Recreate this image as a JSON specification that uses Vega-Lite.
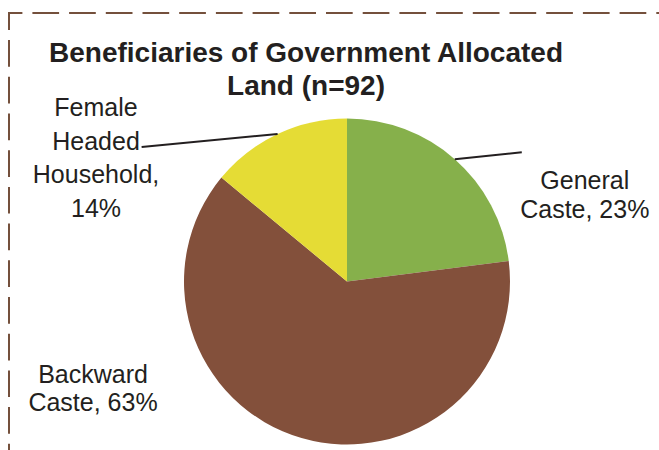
{
  "$schema": "https://vega.github.io/schema/vega-lite/v6.json",
  "width": 676,
  "height": 537,
  "autosize": {"type": "none"},
  "padding": {"left": 9, "top": 13, "right": 0, "bottom": 0},
  "background": "white",
  "title": {
    "text": ["Beneficiaries of Government Allocated", "Land (n=92)"],
    "font": "Liberation Sans",
    "fontSize": 28,
    "fontWeight": "bold",
    "color": "#231F20",
    "lineHeight": 33,
    "anchor": "middle",
    "frame": "group",
    "baseline": "alphabetic",
    "offset": -110,
    "dx": -41
  },
  "data": {
    "values": [
      {"category": "General Caste", "pct": 23, "label": "General\nCaste, 23%"},
      {"category": "Backward Caste", "pct": 63, "label": "Backward\nCaste, 63%"},
      {"category": "Female Headed Household", "pct": 14, "label": "Female\nHeaded\nHousehold,\n14%"}
    ]
  },
  "transform": [{"window": [{"op": "row_number", "as": "idx"}]}],
  "layer": [
    {
      "mark": {"type": "arc", "outerRadius": 163},
      "encoding": {
        "theta": {"field": "pct", "type": "quantitative", "stack": true},
        "order": {"field": "idx", "type": "quantitative"},
        "color": {
          "field": "category",
          "type": "nominal",
          "scale": {
            "domain": ["General Caste", "Backward Caste", "Female Headed Household"],
            "range": ["#86B04B", "#83503B", "#E5DC35"]
          },
          "legend": null
        }
      }
    },
    {
      "transform": [
        {"window": [{"op": "sum", "field": "pct", "as": "cum"}], "sort": [{"field": "idx"}], "frame": [null, 0]},
        {"calculate": "(datum.cum - datum.pct / 2) / 100 * 2 * PI", "as": "mid"},
        {"calculate": "sin(datum.mid)", "as": "sx"},
        {"calculate": "cos(datum.mid)", "as": "sy"},
        {"filter": "datum.category === 'General Caste'"}
      ],
      "mark": {"type": "rule", "color": "#231F20", "strokeWidth": 2, "x2Offset": 67, "y2Offset": -7},
      "encoding": {
        "x": {"field": "sx", "type": "quantitative", "scale": {"domain": [-2.0736, 2.0736], "nice": false, "zero": false}, "axis": null},
        "y": {"field": "sy", "type": "quantitative", "scale": {"domain": [-1.6472, 1.6472], "nice": false, "zero": false}, "axis": null},
        "x2": {"field": "sx"},
        "y2": {"field": "sy"}
      }
    },
    {
      "transform": [
        {"window": [{"op": "sum", "field": "pct", "as": "cum"}], "sort": [{"field": "idx"}], "frame": [null, 0]},
        {"calculate": "(datum.cum - datum.pct / 2) / 100 * 2 * PI", "as": "mid"},
        {"calculate": "sin(datum.mid)", "as": "sx"},
        {"calculate": "cos(datum.mid)", "as": "sy"},
        {"filter": "datum.category === 'Female Headed Household'"}
      ],
      "mark": {"type": "rule", "color": "#231F20", "strokeWidth": 2, "x2Offset": -136, "y2Offset": 13},
      "encoding": {
        "x": {"field": "sx", "type": "quantitative", "scale": {"domain": [-2.0736, 2.0736], "nice": false, "zero": false}, "axis": null},
        "y": {"field": "sy", "type": "quantitative", "scale": {"domain": [-1.6472, 1.6472], "nice": false, "zero": false}, "axis": null},
        "x2": {"field": "sx"},
        "y2": {"field": "sy"}
      }
    },
    {
      "mark": {"type": "text", "radius": 163, "dx": 130, "dy": 30, "align": "center", "baseline": "alphabetic", "font": "Liberation Sans", "fontSize": 25, "color": "#231F20", "lineBreak": "\n", "lineHeight": 28.5},
      "encoding": {
        "theta": {"field": "pct", "type": "quantitative", "stack": true},
        "order": {"field": "idx", "type": "quantitative"},
        "detail": {"field": "category", "type": "nominal"},
        "text": {"field": "label", "type": "nominal"},
        "opacity": {"condition": {"test": "datum.category === 'General Caste'", "value": 1}, "value": 0}
      }
    },
    {
      "mark": {"type": "text", "radius": 163, "dx": -208.5, "dy": -55, "align": "center", "baseline": "alphabetic", "font": "Liberation Sans", "fontSize": 25, "color": "#231F20", "lineBreak": "\n", "lineHeight": 28},
      "encoding": {
        "theta": {"field": "pct", "type": "quantitative", "stack": true},
        "order": {"field": "idx", "type": "quantitative"},
        "detail": {"field": "category", "type": "nominal"},
        "text": {"field": "label", "type": "nominal"},
        "opacity": {"condition": {"test": "datum.category === 'Backward Caste'", "value": 1}, "value": 0}
      }
    },
    {
      "mark": {"type": "text", "radius": 163, "dx": -181.6, "dy": -18, "align": "center", "baseline": "alphabetic", "font": "Liberation Sans", "fontSize": 25, "color": "#231F20", "lineBreak": "\n", "lineHeight": 33.5},
      "encoding": {
        "theta": {"field": "pct", "type": "quantitative", "stack": true},
        "order": {"field": "idx", "type": "quantitative"},
        "detail": {"field": "category", "type": "nominal"},
        "text": {"field": "label", "type": "nominal"},
        "opacity": {"condition": {"test": "datum.category === 'Female Headed Household'", "value": 1}, "value": 0}
      }
    }
  ],
  "config": {
    "view": {"stroke": "#74503C", "strokeWidth": 2, "strokeDash": [26.7, 10], "strokeDashOffset": 13.3}
  }
}
